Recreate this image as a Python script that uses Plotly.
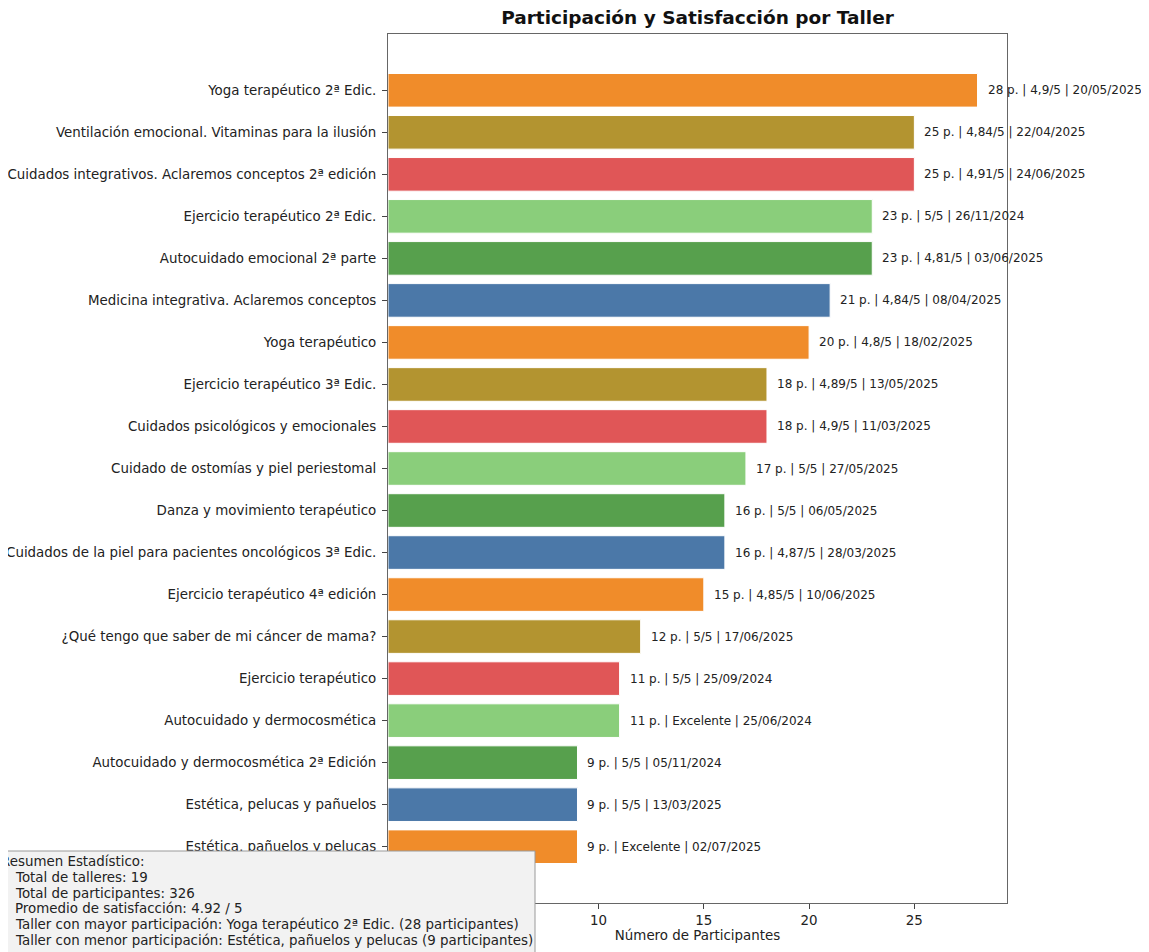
import plotly.graph_objects as go

talleres = [
    "Yoga terapéutico 2ª Edic.",
    "Ventilación emocional. Vitaminas para la ilusión",
    "Cuidados integrativos. Aclaremos conceptos 2ª edición",
    "Ejercicio terapéutico 2ª Edic.",
    "Autocuidado emocional 2ª parte",
    "Medicina integrativa. Aclaremos conceptos",
    "Yoga terapéutico",
    "Ejercicio terapéutico 3ª Edic.",
    "Cuidados psicológicos y emocionales",
    "Cuidado de ostomías y piel periestomal",
    "Danza y movimiento terapéutico",
    "Cuidados de la piel para pacientes oncológicos 3ª Edic.",
    "Ejercicio terapéutico 4ª edición",
    "¿Qué tengo que saber de mi cáncer de mama?",
    "Ejercicio terapéutico",
    "Autocuidado y dermocosmética",
    "Autocuidado y dermocosmética 2ª Edición",
    "Estética, pelucas y pañuelos",
    "Estética, pañuelos y pelucas",
]
participantes = [28, 25, 25, 23, 23, 21, 20, 18, 18, 17, 16, 16, 15, 12, 11, 11, 9, 9, 9]
satisfaccion = ["4,9/5", "4,84/5", "4,91/5", "5/5", "4,81/5", "4,84/5", "4,8/5", "4,89/5",
                "4,9/5", "5/5", "5/5", "4,87/5", "4,85/5", "5/5", "5/5", "Excelente",
                "5/5", "5/5", "Excelente"]
fechas = ["20/05/2025", "22/04/2025", "24/06/2025", "26/11/2024", "03/06/2025", "08/04/2025",
          "18/02/2025", "13/05/2025", "11/03/2025", "27/05/2025", "06/05/2025", "28/03/2025",
          "10/06/2025", "17/06/2025", "25/09/2024", "25/06/2024", "05/11/2024", "13/03/2025",
          "02/07/2025"]
paleta = ["#F08C2A", "#B39430", "#E05657", "#8ACE7B", "#57A04D", "#4B78A8"]
# ticks at 0 and 5 sit under the summary box in the reference, so only these show
x_ticks = [10, 15, 20, 25]

resumen = [
    "Resumen Estadístico:",
    "Total de talleres: 19",
    "Total de participantes: 326",
    "Promedio de satisfacción: 4.92 / 5",
    "Taller con mayor participación: Yoga terapéutico 2ª Edic. (28 participantes)",
    "Taller con menor participación: Estética, pañuelos y pelucas (9 participantes)",
]

FONT = "DejaVu Sans"
colores = [paleta[i % len(paleta)] for i in range(len(talleres))]
n = len(talleres)

# layout geometry (page has 8px body margin)
W, H = 1149, 952
L, R, T, B = 380, 150, 26, 57
PW, PH = W - L - R, H - T - B
OFF = 8


def px_x(x):
    return (x - OFF - L) / PW


def px_y(y):
    return (H - B - (y - OFF)) / PH


fig = go.Figure()
fig.add_trace(go.Bar(
    x=participantes, y=talleres, orientation="h", width=0.8,
    marker=dict(color=colores, line=dict(color="white", width=1)),
    hoverinfo="skip",
))

for t, p, s, f in zip(talleres, participantes, satisfaccion, fechas):
    fig.add_annotation(x=p, y=t, xref="x", yref="y", text=f"{p} p. | {s} | {f}",
                       showarrow=False, xanchor="left", yanchor="middle", xshift=8,
                       font=dict(size=12, color="#222222", family=FONT))

# summary box
fig.add_shape(type="rect", xref="paper", yref="paper",
              x0=px_x(-2), x1=px_x(535), y0=px_y(851), y1=px_y(975),
              fillcolor="#F2F2F2", line=dict(color="#9A9A9A", width=1), layer="above")
for i, line in enumerate(resumen):
    fig.add_annotation(xref="paper", yref="paper",
                       x=px_x(-1 if i == 0 else 13), y=px_y(861 + 16 * i),
                       xanchor="left", yanchor="middle", text=line, showarrow=False,
                       align="left", font=dict(size=13.4, color="#222222", family=FONT))

fig.update_layout(
    width=W, height=H,
    margin=dict(l=L, r=R, t=T, b=B, autoexpand=False),
    paper_bgcolor="white", plot_bgcolor="white",
    font=dict(family=FONT, size=13.4, color="#222222"),
    title=dict(text="<b>Participación y Satisfacción por Taller</b>",
               x=(L + PW / 2) / W, xanchor="center", y=1 - 10 / H, yanchor="middle",
               font=dict(size=18.5, color="#111111", family=FONT)),
    showlegend=False,
    bargap=0.2,
)
fig.update_xaxes(
    range=[0, 29.4], tickvals=x_ticks, ticks="outside", ticklen=5, tickcolor="#444",
    showgrid=False, zeroline=False, showline=True, linecolor="#666", linewidth=1, mirror=True,
    title=dict(text="Número de Participantes", font=dict(size=13.4), standoff=2),
    tickfont=dict(size=13.4), automargin=False,
)
fig.update_yaxes(
    type="category", categoryorder="array", categoryarray=talleres,
    range=[n - 1 + 1.34, -1.34], ticks="outside", ticklen=5, tickcolor="#444",
    ticklabelstandoff=3, automargin=False,
    showgrid=False, zeroline=False, showline=True, linecolor="#666", linewidth=1, mirror=True,
    tickfont=dict(size=13.4),
)

fig.write_html("out.html")
